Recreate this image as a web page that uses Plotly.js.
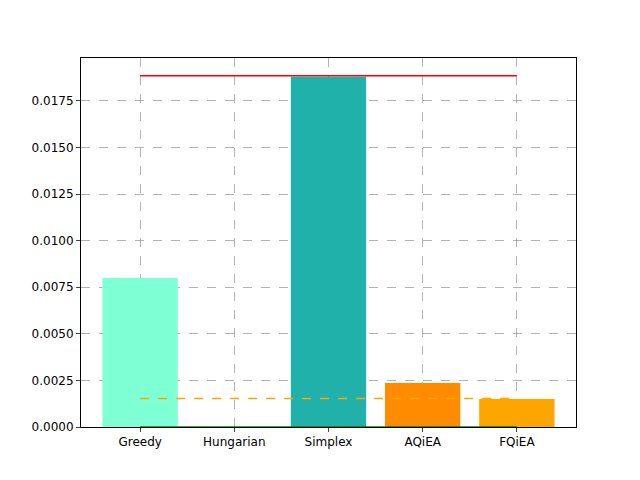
<!DOCTYPE html>
<html><head><script src="https://cdn.plot.ly/plotly-3.0.1.min.js"></script></head>
<body style="margin:0"><div id="c" style="width:640px;height:480px"></div>
<script>
const categories = ["Greedy","Hungarian","Simplex","AQiEA","FQiEA"];
const values = [0.0080, 0.0, 0.0188, 0.00236, 0.0015];
const colors = ["aquamarine","#7FFFD4","lightseagreen","darkorange","orange"];
const maxLine = 0.01885, meanLine = 0.00153, minLine = 0.0;
const idx = [0,1,2,3,4];
const traces = [
 {type:"bar", x:idx, y:values, width:0.8, marker:{color:["#7fffd4","#7fffd4","#20b2aa","#ff8c00","#ffa500"]}, hoverinfo:"skip"},
 {type:"scatter", mode:"lines", x:[0,4], y:[maxLine,maxLine], line:{color:"red",width:1.5}},
 {type:"scatter", mode:"lines", x:[0,4], y:[meanLine,meanLine], line:{color:"orange",width:1.5,dash:"dash"}},
 {type:"scatter", mode:"lines", x:[0,4], y:[minLine,minLine], line:{color:"green",width:1.5}, cliponaxis:false}
];
Plotly.newPlot("c", traces, {
 width:640, height:480, showlegend:false, paper_bgcolor:"white", plot_bgcolor:"white",
 margin:{l:81,r:64,t:58,b:53},
 font:{family:"DejaVu Sans", size:12, color:"black"},
 xaxis:{range:[-0.628,4.628], tickvals:idx, ticktext:categories, showgrid:true, gridcolor:"gray", griddash:"dash", gridwidth:0.6,
   ticks:"outside", ticklen:4, showline:true, mirror:true, linecolor:"black", zeroline:false},
 yaxis:{range:[0,0.0198], dtick:0.0025, tickformat:".4f", showgrid:true, gridcolor:"gray", griddash:"dash", gridwidth:0.6,
   ticks:"outside", ticklen:4, showline:true, mirror:true, linecolor:"black", zeroline:false}
}, {staticPlot:true});
</script></body></html>
